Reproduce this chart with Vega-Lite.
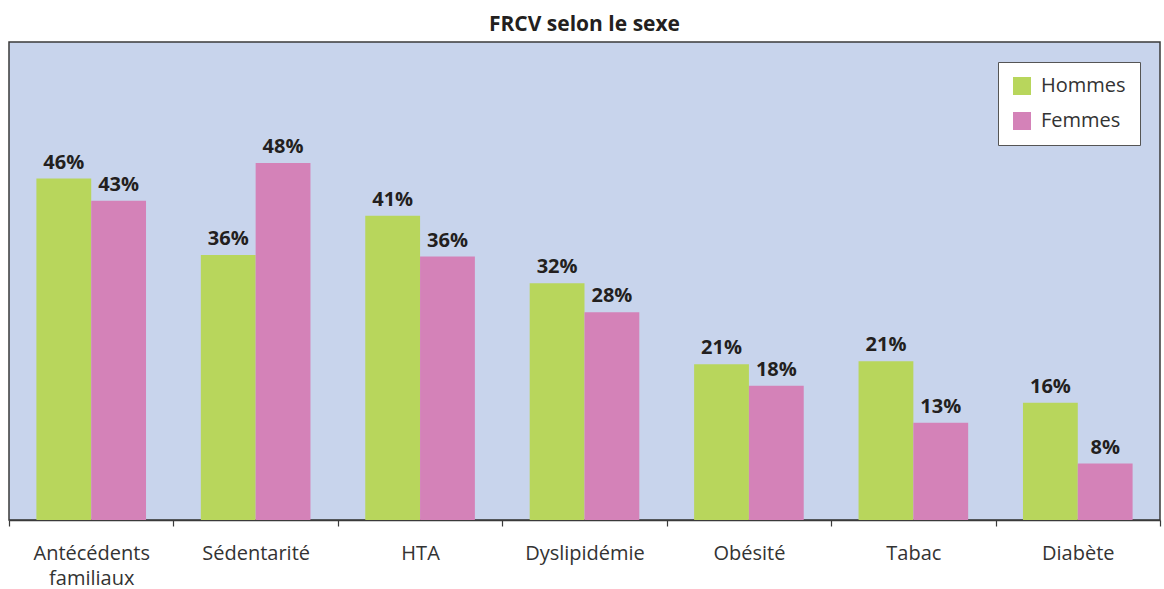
{
  "$schema": "https://vega.github.io/schema/vega-lite/v6.json",
  "autosize": "none",
  "width": 1151,
  "height": 478,
  "padding": {"left": 9, "top": 42, "right": 4, "bottom": 69},
  "background": "white",
  "title": {"text": "FRCV selon le sexe", "font": "Open Sans", "fontSize": 21, "fontWeight": "bold", "color": "#231f20", "anchor": "middle", "offset": 7},
  "config": {
    "view": {"stroke": "#3a3a3a", "strokeWidth": 1.5, "fill": "#c8d4ec"},
    "font": "Open Sans"
  },
  "data": {"values": [
    {"facteur": "Antécédents familiaux", "sexe": "Hommes", "valeur": 0.46},
    {"facteur": "Antécédents familiaux", "sexe": "Femmes", "valeur": 0.43},
    {"facteur": "Sédentarité", "sexe": "Hommes", "valeur": 0.357},
    {"facteur": "Sédentarité", "sexe": "Femmes", "valeur": 0.481},
    {"facteur": "HTA", "sexe": "Hommes", "valeur": 0.41},
    {"facteur": "HTA", "sexe": "Femmes", "valeur": 0.355},
    {"facteur": "Dyslipidémie", "sexe": "Hommes", "valeur": 0.319},
    {"facteur": "Dyslipidémie", "sexe": "Femmes", "valeur": 0.28},
    {"facteur": "Obésité", "sexe": "Hommes", "valeur": 0.21},
    {"facteur": "Obésité", "sexe": "Femmes", "valeur": 0.181},
    {"facteur": "Tabac", "sexe": "Hommes", "valeur": 0.214},
    {"facteur": "Tabac", "sexe": "Femmes", "valeur": 0.131},
    {"facteur": "Diabète", "sexe": "Hommes", "valeur": 0.158},
    {"facteur": "Diabète", "sexe": "Femmes", "valeur": 0.076}
  ]},
  "encoding": {
    "x": {
      "field": "facteur", "type": "nominal", "sort": null,
      "scale": {"paddingInner": 0, "paddingOuter": 0},
      "axis": {
        "title": null, "labelAngle": 0, "tickBand": "extent", "grid": false,
        "domainColor": "#3a3a3a", "domainWidth": 1.5, "tickColor": "#3a3a3a", "tickSize": 6, "tickWidth": 1.2,
        "labelFontSize": 20, "labelColor": "#333333", "labelPadding": 17, "labelFont": "Open Sans",
        "labelExpr": "datum.label == 'Antécédents familiaux' ? ['Antécédents', 'familiaux'] : datum.label",
        "labelLineHeight": 25
      }
    },
    "xOffset": {"field": "sexe", "type": "nominal", "sort": ["Hommes", "Femmes"], "scale": {"paddingInner": 0, "paddingOuter": 0.5}},
    "y": {"field": "valeur", "type": "quantitative", "scale": {"domain": [0, 0.644], "nice": false}, "axis": null}
  },
  "layer": [
    {
      "mark": {"type": "bar"},
      "encoding": {
        "color": {
          "field": "sexe", "type": "nominal", "sort": ["Hommes", "Femmes"],
          "scale": {"domain": ["Hommes", "Femmes"], "range": ["#b8d65c", "#d482b8"]},
          "legend": {
            "title": null, "orient": "none", "legendX": 989, "legendY": 20,
            "fillColor": "white", "strokeColor": "#555555",
            "padding": 14, "symbolType": "square", "symbolSize": 324, "symbolStrokeWidth": 0,
            "labelFontSize": 20, "labelColor": "#333333", "labelFont": "Open Sans", "labelOffset": 9,
            "rowPadding": 15
          }
        }
      }
    },
    {
      "mark": {"type": "text", "baseline": "bottom", "dy": -6, "fontSize": 20, "fontWeight": "bold", "color": "#231f20", "font": "Open Sans"},
      "encoding": {
        "text": {"field": "valeur", "type": "quantitative", "format": ".0%"}
      }
    }
  ]
}
